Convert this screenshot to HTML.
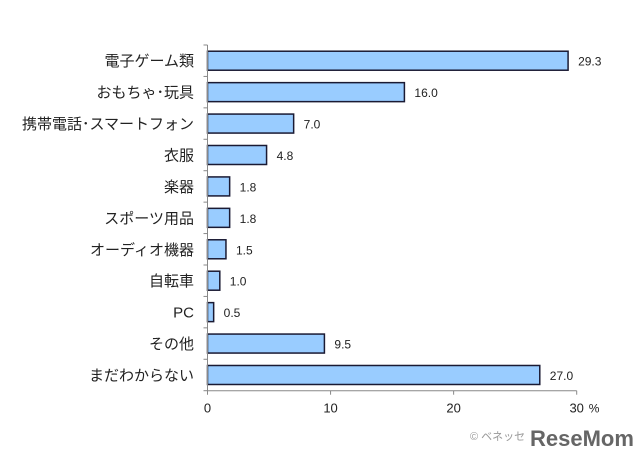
<!DOCTYPE html>
<html><head><meta charset="utf-8"><style>
body{margin:0;background:#fff}
svg text{font-family:"Liberation Sans","Noto Sans CJK JP",sans-serif}
</style></head><body>
<svg width="640" height="460">
<g id="g"></g>
<text x="470" y="440" font-size="11" fill="#999">© ベネッセ</text>
<text x="530" y="446" font-size="22" font-weight="bold" fill="#666">ReseMom</text>
</svg>
<script>
const categories=["電子ゲーム類","おもちゃ･玩具","携帯電話･スマートフォン","衣服","楽器","スポーツ用品","オーディオ機器","自転車","PC","その他","まだわからない"];
const values=[29.3,16.0,7.0,4.8,1.8,1.8,1.5,1.0,0.5,9.5,27.0];
const ticks=[0,10,20,30];
const g=document.getElementById('g');const NS="http://www.w3.org/2000/svg";
const x0=207.5,sx=(576.7-207.5)/30,yTop=45,yBot=390.7,step=(yBot-yTop)/categories.length;
const X=v=>x0+v*sx;
function mk(t,a,txt){const e=document.createElementNS(NS,t);for(const k in a)e.setAttribute(k,a[k]);if(txt!=null)e.textContent=txt;g.appendChild(e);return e;}
categories.forEach((c,i)=>{
 const cy=yTop+step*(i+0.5);
 const r=mk('rect',{x:x0,y:cy-9.5,width:X(values[i])-x0,height:19,fill:'#99ccff',stroke:'#1a1a33','stroke-width':1.5});
 
 
 const l=mk('text',{x:X(values[i])+10,y:cy+5,'font-size':12,fill:'#222'},values[i].toFixed(1));
 
 
 const t=mk('text',{x:194,y:cy+5.5,'font-size':15,'text-anchor':'end',fill:'#222'},c);
 
 
});
for(let i=0;i<=categories.length;i++){const y=yTop+step*i;mk('line',{x1:x0-4,x2:x0,y1:y,y2:y,stroke:'#888'});}
mk('line',{x1:x0,x2:x0,y1:yTop,y2:yBot,stroke:'#888'});
mk('line',{x1:x0,x2:X(30),y1:yBot,y2:yBot,stroke:'#888'});
ticks.forEach(v=>{mk('line',{x1:X(v),x2:X(v),y1:yBot,y2:yBot+4,stroke:'#888'});
 const t=mk('text',{x:X(v),y:yBot+22,'font-size':13,'text-anchor':'middle',fill:'#222'},v);
 
 });
const p=mk('text',{x:X(30)+12,y:yBot+22,'font-size':12,fill:'#222'},'%');


</script>
</body></html>
